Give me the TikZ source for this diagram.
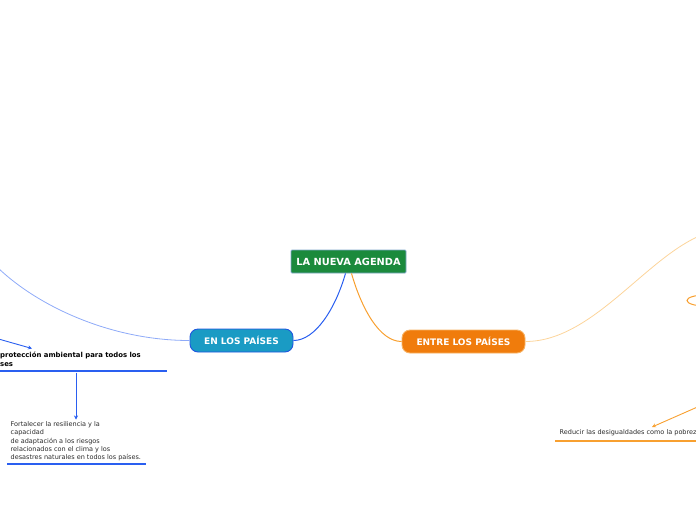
\documentclass[tikz,border=0pt]{standalone}
\usepackage{fontspec}
\setmainfont{DejaVu Sans}
\usetikzlibrary{arrows.meta}
\definecolor{cgreen}{HTML}{1B8A3C}
\definecolor{cgreenb}{HTML}{7FA8C8}
\definecolor{cteal}{HTML}{1A9BC4}
\definecolor{cblueb}{HTML}{1F56E0}
\definecolor{corange}{HTML}{F07C0C}
\definecolor{corangeb}{HTML}{F7B264}
\definecolor{cblue}{HTML}{2A5FF0}
\definecolor{clblue}{HTML}{8EAAF8}
\definecolor{cor}{HTML}{F8A030}
\definecolor{clor}{HTML}{FCD49A}
\definecolor{ctext}{HTML}{2A2A2A}
\tikzset{
  mainbox/.style={draw=cgreenb, line width=0.8pt, fill=cgreen, text=white, font=\fontsize{9.8}{11}\selectfont\bfseries, minimum width=115pt, minimum height=23pt, inner sep=0pt, rounded corners=1pt},
  pillblue/.style={draw=cblueb, line width=0.9pt, fill=cteal, text=white, font=\fontsize{9}{10}\selectfont\bfseries, minimum width=103pt, minimum height=23pt, inner sep=0pt, rounded corners=8pt},
  pillorange/.style={draw=corangeb, line width=0.9pt, fill=corange, text=white, font=\fontsize{9}{10}\selectfont\bfseries, minimum width=123pt, minimum height=23pt, inner sep=0pt, rounded corners=8pt},
  smalltext/.style={anchor=north west, inner sep=0pt, align=left, text=ctext, font=\fontsize{6.5}{8.3}\selectfont},
  boldtext/.style={anchor=north west, inner sep=0pt, align=left, text=black, font=\fontsize{6.9}{8.8}\selectfont\bfseries},
  bluecon/.style={draw=cblue, line width=1pt},
  orcon/.style={draw=cor, line width=1pt},
  lbluecon/.style={draw=clblue, line width=0.8pt},
  lorcon/.style={draw=clor, line width=0.8pt},
  bluearrow/.style={draw=cblue, line width=0.9pt, -{Stealth[length=4pt,width=4pt]}},
  orarrow/.style={draw=cor, line width=0.9pt, -{Stealth[length=4pt,width=4pt]}},
  blueunder/.style={draw=cblue, line width=1.6pt},
  orunder/.style={draw=cor, line width=1.6pt},
}
\begin{document}
\begin{tikzpicture}[x=1pt,y=-1pt]
\useasboundingbox (0,0) rectangle (696,520);
% main nodes
\node[mainbox] (c) at (348.5,261.5) {LA NUEVA AGENDA};
\node[pillblue] (en) at (241.5,340.5) {EN LOS PAÍSES};
\node[pillorange] (entre) at (463.5,341.5) {ENTRE LOS PAÍSES};
% connectors from center
\draw[bluecon] ([xshift=-3pt]c.south) .. controls +(-10,35) and +(22,0) .. (en.east);
\draw[orcon] ([xshift=3pt]c.south) .. controls +(10,35) and +(-22,0) .. (entre.west);
% left side
\coordinate (lb) at (-5,265);
\draw[lbluecon] (en.west) .. controls +(-80,0) and +(40,40) .. (lb);
\coordinate (a1s) at (-5,338);
\coordinate (a1e) at (32,348.5);
\draw[bluearrow] (a1s) -- (a1e);
\node[boldtext] (t1) at (0,352) {protección ambiental para todos los\\ses};
\coordinate (u1a) at (-5,371);
\coordinate (u1b) at (167,371);
\draw[blueunder] (u1a) -- (u1b);
\coordinate (a2s) at (76,372.5);
\node[smalltext] (t2) at (10.5,421.5) {Fortalecer la resiliencia y la\\capacidad\\de adaptación a los riesgos\\relacionados con el clima y los\\desastres naturales en todos los países.};
\coordinate (a2e) at (76,419.5);
\draw[bluearrow] (a2s) -- (a2e);
\coordinate (u2a) at (7,464);
\coordinate (u2b) at (146,464);
\draw[blueunder] (u2a) -- (u2b);
% right side
\coordinate (lo) at (710,232);
\draw[lorcon] (entre.east) .. controls +(70,0) and +(-60,18) .. (lo);
\coordinate (ec) at (705,300.5);
\draw[draw=cor, line width=1pt] (ec) ellipse [x radius=18pt, y radius=5.5pt];
\coordinate (a3s) at (702,405);
\coordinate (a3e) at (652,427);
\draw[orarrow] (a3s) -- (a3e);
\node[smalltext, anchor=north west] (t3) at (559.5,429.5) {Reducir las desigualdades como la pobrez};
\coordinate (u3a) at (555,441);
\coordinate (u3b) at (700,441);
\draw[orunder] (u3a) -- (u3b);
\end{tikzpicture}
\end{document}
